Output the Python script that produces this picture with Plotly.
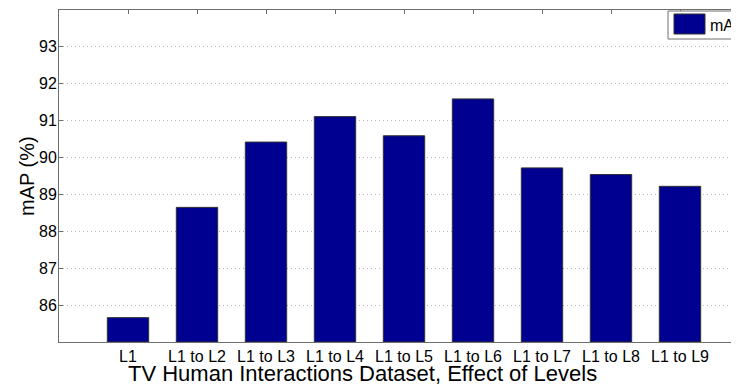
import plotly.graph_objects as go

categories = ["L1", "L1 to L2", "L1 to L3", "L1 to L4", "L1 to L5",
              "L1 to L6", "L1 to L7", "L1 to L8", "L1 to L9"]
map_values = [85.66, 88.65, 90.42, 91.11, 90.59, 91.59, 89.72, 89.54, 89.22]
y_ticks = [86, 87, 88, 89, 90, 91, 92, 93]

positions = list(range(1, len(categories) + 1))

# the page body adds an 8 px offset, so the figure is shifted by that amount
OFF = 8
W, H = 739 - OFF, 385 - OFF
L, T, B = 59 - OFF, 10 - OFF, 385 - 342
plot_w = W - L
plot_h = H - T - B
unit_px = 69.0

axis_col = "#6e6e6e"
bar_col = "rgb(0,0,144)"
font_fam = "Liberation Sans, Arial, Helvetica, sans-serif"

fig = go.Figure()
fig.add_trace(go.Bar(
    x=positions, y=[v - 85 for v in map_values], base=85,
    width=0.6,
    marker=dict(color=bar_col, line=dict(color="#333333", width=1)),
    name="mAP", showlegend=False,
    customdata=map_values,
    hovertemplate="%{customdata}<extra></extra>",
))

fig.update_layout(
    width=W, height=H,
    margin=dict(l=L, r=0, t=T, b=B, pad=0, autoexpand=False),
    paper_bgcolor="white", plot_bgcolor="white",
    font=dict(family=font_fam, color="black", size=16),
    xaxis=dict(
        range=[0, plot_w / unit_px],
        tickmode="array", tickvals=positions, ticktext=categories,
        ticks="inside", ticklen=4, tickcolor=axis_col,
        showline=True, linecolor=axis_col, linewidth=1, mirror="ticks",
        showgrid=False, zeroline=False, automargin=False,
        layer="below traces",
        tickfont=dict(size=16),
    ),
    yaxis=dict(
        range=[85, 94],
        tickmode="array", tickvals=y_ticks,
        ticks="inside", ticklen=4, tickcolor=axis_col,
        showline=True, linecolor=axis_col, linewidth=1, mirror=False,
        showgrid=True, gridcolor="#b8b8b8", griddash="1px,3px", gridwidth=1,
        zeroline=False, automargin=False,
        layer="below traces",
        tickfont=dict(size=16),
        ticklabelstandoff=-2,
    ),
)

def px_x(p):
    # p given in reference page pixels
    return (p - OFF - L) / plot_w

def px_y(p):
    return (H - B - (p - OFF)) / plot_h

# axis titles
fig.add_annotation(xref="paper", yref="paper", x=px_x(362), y=px_y(373),
                   text="TV Human Interactions Dataset, Effect of Levels",
                   showarrow=False, xanchor="center", yanchor="middle",
                   font=dict(size=22, family=font_fam, color="black"))
fig.add_annotation(xref="paper", yref="paper", x=px_x(27), y=px_y(176),
                   text="mAP (%)", textangle=-90,
                   showarrow=False, xanchor="center", yanchor="middle",
                   font=dict(size=20, family=font_fam, color="black"))

# legend box
fig.add_shape(type="rect", xref="paper", yref="paper",
              x0=px_x(668), x1=px_x(760), y0=px_y(39), y1=px_y(11),
              fillcolor="white", line=dict(color=axis_col, width=1), layer="above")
fig.add_shape(type="rect", xref="paper", yref="paper",
              x0=px_x(674), x1=px_x(705), y0=px_y(34), y1=px_y(14),
              fillcolor=bar_col, line=dict(color="#333333", width=1), layer="above")
fig.add_annotation(xref="paper", yref="paper", x=px_x(708), y=px_y(25),
                   text="mAP", showarrow=False, xanchor="left", yanchor="middle",
                   font=dict(size=16, family=font_fam, color="black"))

fig.write_html("out.html")
